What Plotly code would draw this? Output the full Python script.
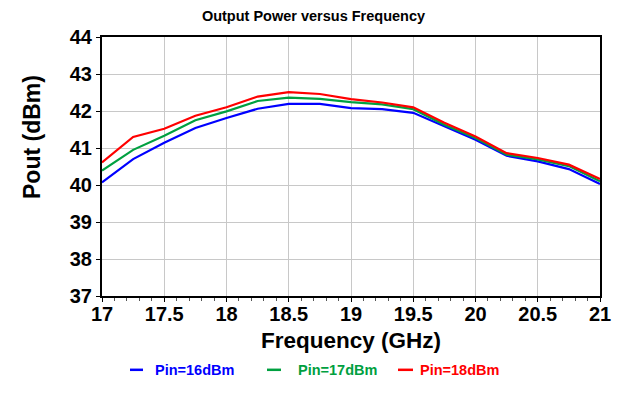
import plotly.graph_objects as go

freq = [17.0, 17.25, 17.5, 17.75, 18.0, 18.25, 18.5, 18.75, 19.0, 19.25, 19.5,
        19.75, 20.0, 20.25, 20.5, 20.75, 21.0]
pout_16 = [40.07, 40.70, 41.14, 41.54, 41.81, 42.06, 42.19, 42.19, 42.08, 42.05,
           41.95, 41.58, 41.22, 40.79, 40.64, 40.43, 40.03]
pout_17 = [40.39, 40.95, 41.33, 41.75, 41.99, 42.27, 42.36, 42.33, 42.24, 42.18,
           42.05, 41.63, 41.27, 40.82, 40.69, 40.51, 40.10]
pout_18 = [40.61, 41.30, 41.52, 41.87, 42.10, 42.39, 42.51, 42.46, 42.32, 42.23,
           42.10, 41.68, 41.31, 40.86, 40.73, 40.55, 40.16]

series_names = ["Pin=16dBm", "Pin=17dBm", "Pin=18dBm"]
series_values = [pout_16, pout_17, pout_18]
series_colors = ["#0000FF", "#00A040", "#FF0000"]

x_ticks = [17, 17.5, 18, 18.5, 19, 19.5, 20, 20.5, 21]
x_tick_labels = ["17", "17.5", "18", "18.5", "19", "19.5", "20", "20.5", "21"]
y_ticks = [37, 38, 39, 40, 41, 42, 43, 44]

FONT = "Liberation Sans, Arial, sans-serif"

fig = go.Figure()
for name, vals, col in zip(series_names, series_values, series_colors):
    fig.add_trace(go.Scatter(x=freq, y=vals, mode="lines", name=name,
                             line=dict(color=col, width=2.2), showlegend=False))

# custom legend (short line + coloured text)
W_PLOT = 498.0
leg_line = [(130, 143), (267, 281), (398, 413)]
leg_text = [153, 296, 418]
LEFT = 102
leg_y = -0.285
for name, col, (a, b), t in zip(series_names, series_colors, leg_line, leg_text):
    fig.add_shape(type="line", xref="paper", yref="paper",
                  x0=(a - LEFT) / W_PLOT, x1=(b - LEFT) / W_PLOT, y0=leg_y, y1=leg_y,
                  line=dict(color=col, width=2.5))
    fig.add_annotation(xref="paper", yref="paper", x=(t - LEFT) / W_PLOT, y=leg_y,
                       xanchor="left", yanchor="middle", showarrow=False,
                       text="<b>%s</b>" % name,
                       font=dict(family=FONT, size=14.5, color=col))

# y axis title
fig.add_annotation(xref="paper", yref="paper", x=0, xshift=-70, y=0.614,
                   xanchor="center", yanchor="middle", showarrow=False,
                   textangle=-90, text="<b>Pout (dBm)</b>",
                   font=dict(family=FONT, size=23, color="black"))

fig.update_layout(
    width=627, height=396,
    margin=dict(l=102, r=27, t=37, b=100),
    paper_bgcolor="white", plot_bgcolor="white",
    font=dict(family=FONT, color="black"),
    title=dict(text="<b>Output Power versus Frequency</b>", x=0.5, xanchor="center",
               y=1 - 16 / 396, yanchor="middle", font=dict(family=FONT, size=14.5, color="black")),
    xaxis=dict(range=[17, 21], tickvals=x_ticks, ticktext=["<b>%s</b>" % t for t in x_tick_labels],
               tickfont=dict(family=FONT, size=20, color="black"),
               showgrid=True, gridcolor="#C8C8C8", gridwidth=1,
               showline=True, linecolor="black", linewidth=1.5, mirror=True,
               ticks="outside", ticklen=4, tickcolor="black", automargin=False,
               ticklabelstandoff=-5,
               minor=dict(dtick=0.1, ticks="outside", ticklen=3, tickcolor="#555", showgrid=False),
               zeroline=False,
               title=dict(text="<b>Frequency (GHz)</b>", standoff=8,
                          font=dict(family=FONT, size=22.5, color="black"))),
    yaxis=dict(range=[37, 44], tickvals=y_ticks, ticktext=["<b>%d</b>" % v for v in y_ticks],
               tickfont=dict(family=FONT, size=20, color="black"),
               showgrid=True, gridcolor="#C8C8C8", gridwidth=1, automargin=False,
               showline=True, linecolor="black", linewidth=2, mirror=True,
               ticks="outside", ticklen=4, tickcolor="black", zeroline=False),
)

fig.write_html("out.html", config={"displayModeBar": False},
               post_script="document.body.style.margin='0';")
